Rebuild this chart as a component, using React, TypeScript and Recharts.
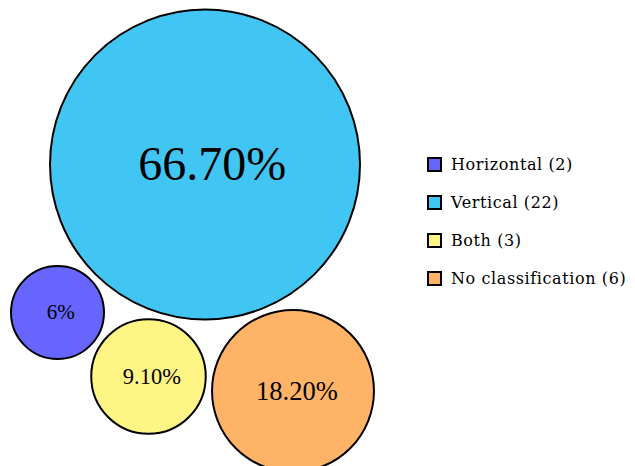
import React from 'react';
import { ScatterChart, Scatter, XAxis, YAxis, ZAxis, Legend } from 'recharts';

// categories and counts shown in the legend
const categories = ['Horizontal', 'Vertical', 'Both', 'No classification'];
const counts = [2, 22, 3, 6];
// share of each category (bubble area is proportional to it)
const percents = [6, 66.7, 9.1, 18.2];
const percentLabels = ['6%', '66.70%', '9.10%', '18.20%'];
// bubble centres in the packed layout
const bubbleX = [57.5, 205, 148.5, 293];
const bubbleY = [312.5, 164.5, 376.5, 391];

const colors = ['#6666FF', '#41C6F3', '#FFF584', '#FFB366'];
const labelSizes = [21, 48, 22.5, 26.5];

const W = 635;
const H = 466;
const MAX_R = 155;

const series = categories.map((c, i) => ({
  name: `${c} (${counts[i]})`,
  color: colors[i],
  fontSize: labelSizes[i],
  data: [{ x: bubbleX[i], y: bubbleY[i], pct: percents[i], label: percentLabels[i] }],
}));

const Bubble = (props: any) => {
  const { cx, cy, width, fill, payload, fontSize } = props;
  const r = width / 2;
  return (
    <g>
      <circle cx={cx} cy={cy} r={r} fill={fill} stroke="#000" strokeWidth={2} />
      <text
        x={cx + fontSize * 0.15}
        y={cy + fontSize * 0.33}
        textAnchor="middle"
        fontFamily="'Liberation Serif', serif"
        fontSize={fontSize}
        fill="#000"
      >
        {payload.label}
      </text>
    </g>
  );
};

const LegendContent = () => (
  <div style={{ fontFamily: "'DejaVu Serif', serif", fontSize: 16, letterSpacing: 0.6, color: '#000' }}>
    {series.map((s) => (
      <div key={s.name} style={{ display: 'flex', alignItems: 'center', height: 38 }}>
        <span
          style={{
            width: 11,
            height: 11,
            background: s.color,
            border: '2px solid #000',
            marginRight: 9,
            display: 'inline-block',
          }}
        />
        <span>{s.name}</span>
      </div>
    ))}
  </div>
);

export default function App() {
  return (
    <div style={{ position: 'absolute', left: 0, top: 0, width: W, height: H }}>
      <ScatterChart width={W} height={H} margin={{ top: 0, right: 0, bottom: 0, left: 0 }}>
        <XAxis type="number" dataKey="x" domain={[0, W]} hide />
        <YAxis type="number" dataKey="y" domain={[0, H]} reversed hide />
        <ZAxis type="number" dataKey="pct" domain={[0, 66.7]} range={[0, Math.PI * MAX_R * MAX_R]} />
        <Legend
          layout="horizontal"
          verticalAlign="middle"
          align="center"
          content={<LegendContent />}
          wrapperStyle={{ left: 427, top: 145, width: 210, height: 152 }}
        />
        {series.map((s) => (
          <Scatter
            key={s.name}
            name={s.name}
            data={s.data}
            fill={s.color}
            isAnimationActive={false}
            shape={(p: any) => <Bubble {...p} fontSize={s.fontSize} />}
          />
        ))}
      </ScatterChart>
    </div>
  );
}
